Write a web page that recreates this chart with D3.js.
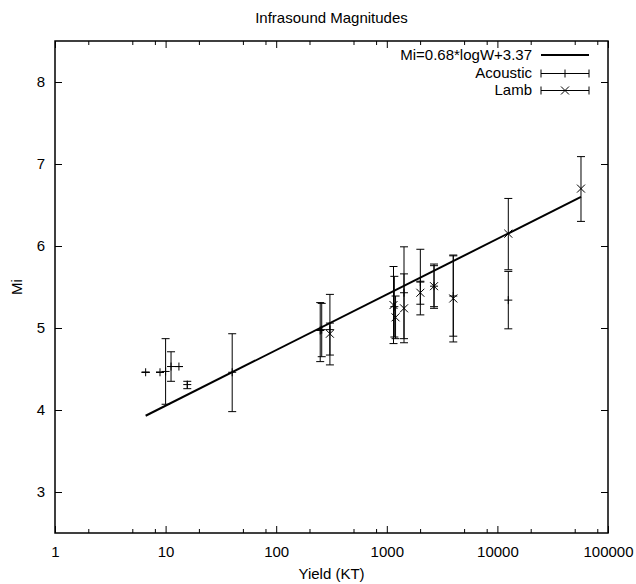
<!DOCTYPE html>
<html>
<head>
<meta charset="utf-8">
<script src="https://cdn.jsdelivr.net/npm/d3@7"></script>
<style>
  body { margin: 0; background: #fff; }
  svg { display: block; }
  text { font-family: "Liberation Sans", Arial, Helvetica, sans-serif; fill: #000; }
</style>
</head>
<body>
<svg id="chart" width="636" height="584"></svg>
<script>
// ---- data ----
const xTicks = [1, 10, 100, 1000, 10000, 100000];
const xMinorTicks = [2, 5, 8, 20, 50, 80, 200, 500, 800, 2000, 5000, 8000, 20000, 50000, 80000];
const yTicks = [3, 4, 5, 6, 7, 8];

const fitLabel = "Mi=0.68*logW+3.37";
const fitW  = [6.6, 57000];
const fitMi = [3.93, 6.60];

const acousticW  = [6.6, 8.9, 10, 11.2, 13.2, 15.7, 40, 250, 258, 306, 1170, 1431, 2010, 2673, 3990, 12550];
const acousticMi = [4.46, 4.46, 4.47, 4.53, 4.53, 4.31, 4.46, 4.97, 4.98, 4.98, 5.26, 5.43, 5.56, 5.51, 5.39, 5.34];
const acousticLo = [4.46, 4.46, 4.07, 4.35, 4.53, 4.26, 3.98, 4.59, 4.65, 4.55, 4.89, 4.87, 5.16, 5.26, 4.90, 4.99];
const acousticHi = [4.46, 4.46, 4.87, 4.71, 4.53, 4.35, 4.93, 5.31, 5.30, 5.41, 5.63, 5.99, 5.96, 5.76, 5.88, 5.69];

const lambW  = [306, 1150, 1200, 1431, 2010, 2673, 3990, 12550, 57000];
const lambMi = [4.93, 5.28, 5.13, 5.24, 5.43, 5.51, 5.36, 6.15, 6.70];
const lambLo = [4.67, 4.81, 4.87, 4.82, 5.29, 5.24, 4.83, 5.71, 6.30];
const lambHi = [5.06, 5.75, 5.39, 5.66, 5.57, 5.78, 5.89, 6.58, 7.09];

// ---- layout ----
const W = 636, H = 584;
const m = { left: 55, right: 28, top: 41, bottom: 51 };
const pw = W - m.left - m.right, ph = H - m.top - m.bottom;
const FS = 15;

const svg = d3.select("#chart");
const g = svg.append("g").attr("transform", `translate(${m.left},${m.top})`);

const x = d3.scaleLog().domain([1, 100000]).range([0, pw]);
const y = d3.scaleLinear().domain([2.5, 8.5]).range([ph, 0]);

function styleAxis(sel) {
  sel.select(".domain").remove();
  sel.selectAll(".tick line").attr("stroke", "#000").attr("stroke-width", 1);
  sel.selectAll(".tick text").style("font-size", FS + "px")
     .style("font-family", '"Liberation Sans", Arial, sans-serif').attr("fill", "#000");
}

// bottom axis
g.append("g").attr("transform", `translate(0,${ph})`)
  .call(d3.axisBottom(x).tickValues(xTicks).tickFormat(d3.format("d")).tickSize(-7).tickPadding(13))
  .call(styleAxis);
g.append("g").attr("transform", `translate(0,${ph})`)
  .call(d3.axisBottom(x).tickValues(xMinorTicks).tickFormat("").tickSize(-4))
  .call(styleAxis);
// top axis
g.append("g")
  .call(d3.axisTop(x).tickValues(xTicks).tickFormat("").tickSize(-7))
  .call(styleAxis);
g.append("g")
  .call(d3.axisTop(x).tickValues(xMinorTicks).tickFormat("").tickSize(-4))
  .call(styleAxis);
// left axis
g.append("g")
  .call(d3.axisLeft(y).tickValues(yTicks).tickFormat(d3.format("d")).tickSize(-7).tickPadding(10))
  .call(styleAxis);
// right axis
g.append("g").attr("transform", `translate(${pw},0)`)
  .call(d3.axisRight(y).tickValues(yTicks).tickFormat("").tickSize(-7))
  .call(styleAxis);

// frame
g.append("rect").attr("x", 0).attr("y", 0).attr("width", pw).attr("height", ph)
  .attr("fill", "none").attr("stroke", "#000").attr("stroke-width", 1.5);

// title and axis labels
svg.append("text").attr("x", m.left + pw / 2).attr("y", 23).attr("text-anchor", "middle")
  .style("font-size", FS + "px").text("Infrasound Magnitudes");
svg.append("text").attr("x", m.left + pw / 2).attr("y", 579).attr("text-anchor", "middle")
  .style("font-size", FS + "px").text("Yield (KT)");
svg.append("text").attr("transform", `translate(22,${m.top + ph / 2}) rotate(-90)`)
  .attr("text-anchor", "middle").style("font-size", FS + "px").text("Mi");

// fit line
const fitData = fitW.map((w, i) => ({ w, mi: fitMi[i] }));
g.append("path").datum(fitData)
  .attr("d", d3.line().x(d => x(d.w)).y(d => y(d.mi)))
  .attr("fill", "none").attr("stroke", "#000").attr("stroke-width", 2);

// error bars
const cap = 4, ms = 4;
function errorBars(ws, mis, los, his, marker) {
  const data = ws.map((w, i) => ({ w, mi: mis[i], lo: los[i], hi: his[i] }));
  const grp = g.append("g").attr("stroke", "#000").attr("stroke-width", 1).attr("fill", "none");
  const s = grp.selectAll("g").data(data).join("g");
  s.append("line").attr("x1", d => x(d.w)).attr("x2", d => x(d.w))
    .attr("y1", d => y(d.lo)).attr("y2", d => y(d.hi));
  s.append("line").attr("x1", d => x(d.w) - cap).attr("x2", d => x(d.w) + cap)
    .attr("y1", d => y(d.lo)).attr("y2", d => y(d.lo));
  s.append("line").attr("x1", d => x(d.w) - cap).attr("x2", d => x(d.w) + cap)
    .attr("y1", d => y(d.hi)).attr("y2", d => y(d.hi));
  s.append("path").attr("d", d => marker(x(d.w), y(d.mi)));
}
const plus = (cx, cy) => `M${cx - ms},${cy}H${cx + ms}M${cx},${cy - ms}V${cy + ms}`;
const cross = (cx, cy) => `M${cx - ms},${cy - ms}L${cx + ms},${cy + ms}M${cx - ms},${cy + ms}L${cx + ms},${cy - ms}`;

errorBars(acousticW, acousticMi, acousticLo, acousticHi, plus);
errorBars(lambW, lambMi, lambLo, lambHi, cross);

// legend
const legend = svg.append("g");
const lx1 = 541, lx2 = 589, tx = 532;
const rows = [
  { label: fitLabel, base: 59.5, type: "line" },
  { label: "Acoustic", base: 78, type: "plus" },
  { label: "Lamb", base: 95, type: "cross" }
];
rows.forEach(r => {
  legend.append("text").attr("x", tx).attr("y", r.base).attr("text-anchor", "end")
    .style("font-size", FS + "px").text(r.label);
  const cy = r.base - 4.5;
  if (r.type === "line") {
    legend.append("line").attr("x1", lx1).attr("x2", lx2).attr("y1", cy).attr("y2", cy)
      .attr("stroke", "#000").attr("stroke-width", 2);
  } else {
    const mid = (lx1 + lx2) / 2;
    legend.append("path")
      .attr("d", `M${lx1},${cy}H${lx2}M${lx1},${cy - cap}V${cy + cap}M${lx2},${cy - cap}V${cy + cap}` +
        (r.type === "plus" ? plus(mid, cy) : cross(mid, cy)))
      .attr("stroke", "#000").attr("stroke-width", 1).attr("fill", "none");
  }
});
</script>
</body>
</html>
